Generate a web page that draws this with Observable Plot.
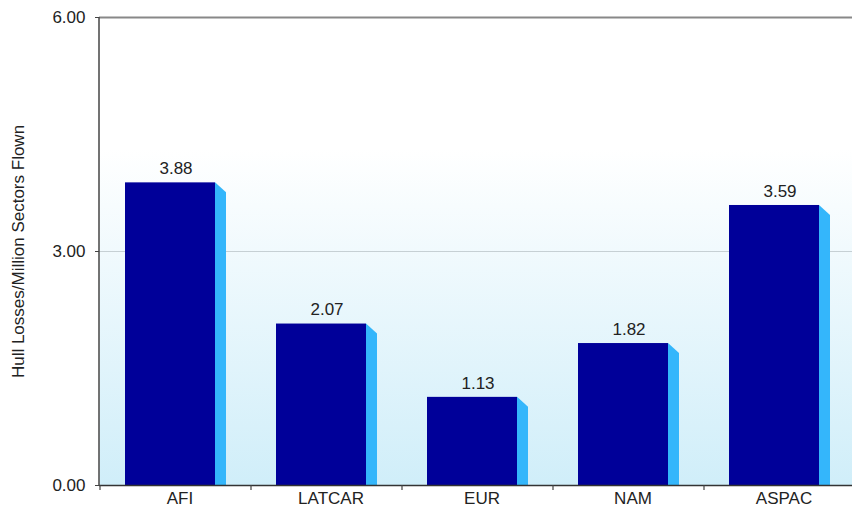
<!DOCTYPE html>
<html>
<head>
<meta charset="utf-8">
<script src="https://cdn.jsdelivr.net/npm/d3@7"></script>
<script src="https://cdn.jsdelivr.net/npm/@observablehq/plot@0.6"></script>
<style>
  html, body { margin: 0; padding: 0; background: #ffffff; }
  #chart { width: 852px; height: 512px; overflow: hidden; }
</style>
</head>
<body>
<div id="chart"></div>
<script>
// ---- data ----
const regions = ["AFI", "LATCAR", "EUR", "NAM", "ASPAC"];
const values = [3.88, 2.07, 1.13, 1.82, 3.59];
const yTicks = [0, 3, 6];
const yLabel = "Hull Losses/Million Sectors Flown";

const data = regions.map((r, i) => ({region: r, value: values[i]}));

const textStyle = {fill: "#222", fontSize: 17, letterSpacing: "0.7px"};

// side face of each 3D bar (parallelogram), built from the bar's scaled channels
function sideFace(index, scales, v) {
  const g = d3.create("svg:g");
  for (const i of index) {
    const x0 = v.x[i] + 115, w = 11;
    const top = Math.min(v.y1[i], v.y2[i]);
    const base = Math.max(v.y1[i], v.y2[i]);
    g.append("polygon")
      .attr("points", [[x0, top], [x0 + w, top + 10], [x0 + w, base], [x0, base]].map(p => p.join(",")).join(" "))
      .attr("fill", "#34b6fb");
  }
  return g.node();
}

// left axis line
function leftAxis(index, scales, values, dims) {
  return d3.create("svg:line")
    .attr("x1", dims.marginLeft).attr("x2", dims.marginLeft)
    .attr("y1", dims.marginTop).attr("y2", dims.height - dims.marginBottom + 1)
    .attr("stroke", "#444").attr("stroke-width", 1.5).node();
}

// x tick marks at category boundaries
function xTickMarks(index, scales, values, dims) {
  const g = d3.create("svg:g");
  const y0 = dims.height - dims.marginBottom;
  for (const r of regions) {
    const x = scales.x(r);
    g.append("line").attr("x1", x).attr("x2", x).attr("y1", y0).attr("y2", y0 + 5)
      .attr("stroke", "#444").attr("stroke-width", 1.2);
  }
  return g.node();
}

const svg = Plot.plot({
  width: 852,
  height: 512,
  marginLeft: 99,
  marginRight: -3,
  marginTop: 17,
  marginBottom: 27,
  style: {fontFamily: "'Liberation Sans', Arial, sans-serif", background: "#ffffff"},
  x: {domain: regions, padding: 0, axis: null},
  y: {domain: [0, 6], axis: null},
  marks: [
    Plot.frame({fill: "url(#bgGrad)", stroke: null}),
    Plot.ruleY([3], {stroke: "#c6d0d4", strokeWidth: 1}),
    Plot.ruleY([6], {stroke: "#888888", strokeWidth: 2}),
    Plot.barY(data, {x: "region", y: "value", fill: "#000099", insetLeft: 25, insetRight: 36}),
    Plot.barY(data, {x: "region", y: "value", fill: "#34b6fb", insetLeft: 115, insetRight: 25, render: (index, scales, v) => sideFace(index, scales, v)}),
    Plot.text(data, {x: "region", y: "value", text: d => d.value.toFixed(2), dy: -14, ...textStyle}),
    Plot.ruleY([0], {stroke: "#333", strokeWidth: 1.5}),
    leftAxis,
    xTickMarks,
    Plot.axisY({ticks: yTicks, tickFormat: d => d.toFixed(2), tickSize: 4, tickPadding: 10, label: null, stroke: "#444", ...textStyle}),
    Plot.text(regions, {x: d => d, frameAnchor: "bottom", dy: 18, dx: 4, text: d => d, ...textStyle}),
    Plot.text([yLabel], {frameAnchor: "left", dx: -81, rotate: -90, textAnchor: "middle", text: d => d, fill: "#222", fontSize: 17, letterSpacing: "0.7px"})
  ]
});

// gradient for plot background
const defs = d3.select(svg).insert("defs", ":first-child");
const grad = defs.append("linearGradient").attr("id", "bgGrad")
  .attr("x1", 0).attr("y1", 0).attr("x2", 0).attr("y2", 1);
grad.append("stop").attr("offset", "0%").attr("stop-color", "#ffffff");
grad.append("stop").attr("offset", "28%").attr("stop-color", "#ffffff");
grad.append("stop").attr("offset", "100%").attr("stop-color", "#d0eef9");

document.getElementById("chart").appendChild(svg);
</script>
</body>
</html>
